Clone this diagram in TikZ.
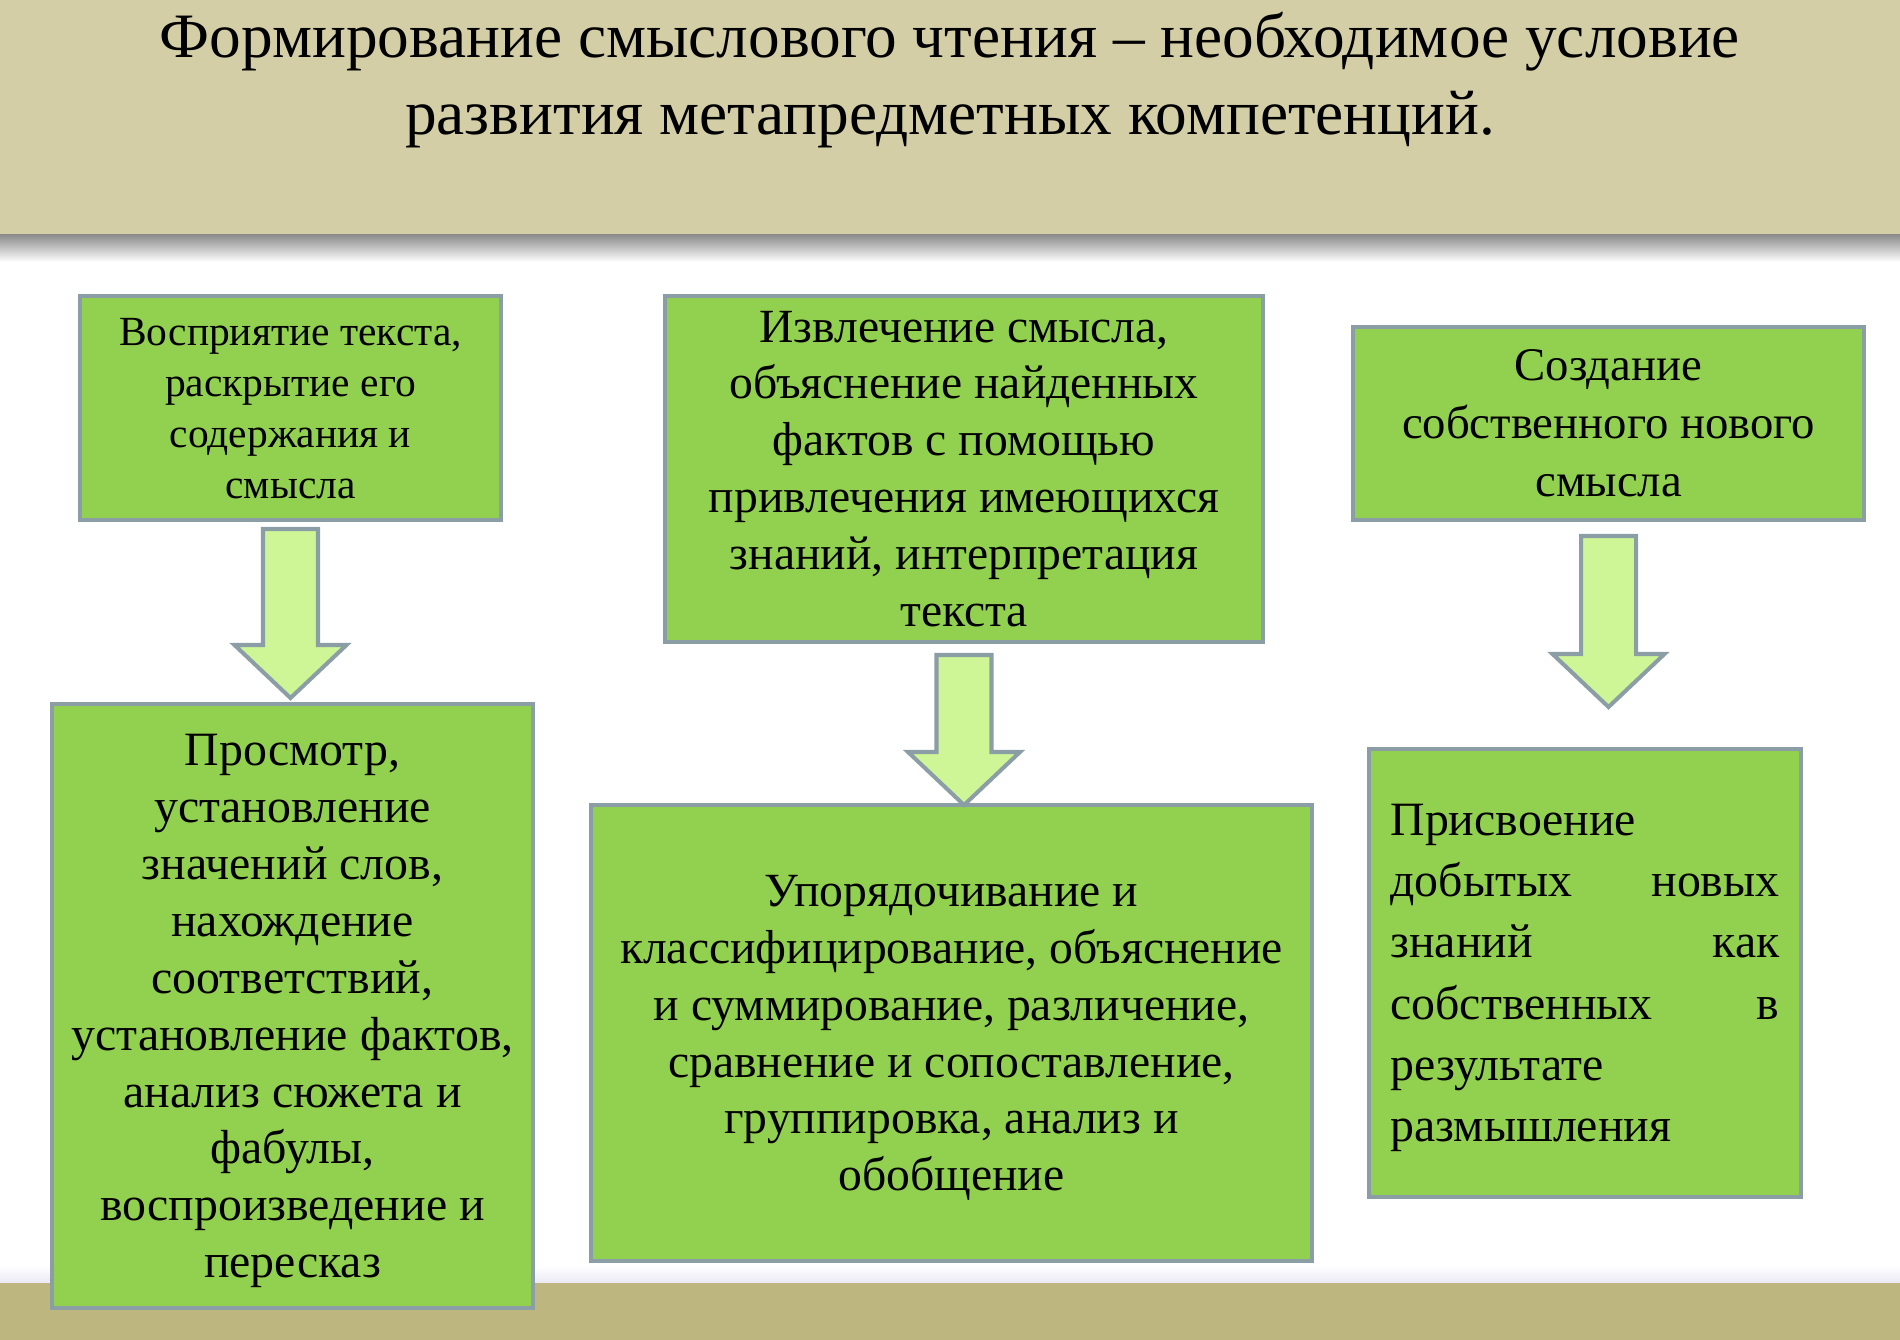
\documentclass[tikz,border=0pt]{standalone}
\usepackage{fontspec}
\setmainfont{Liberation Serif}
\usetikzlibrary{calc}

\definecolor{boxgreen}{RGB}{146,208,80}
\definecolor{arrowgreen}{RGB}{206,246,150}
\definecolor{edgegray}{RGB}{140,158,165}
\definecolor{headband}{RGB}{212,206,166}
\definecolor{footband}{RGB}{189,182,126}

\tikzset{
  stage/.style={draw=edgegray, line width=1.15pt, fill=boxgreen, align=center, inner sep=0pt},
  blockarrow/.style={draw=edgegray, line width=1.15pt, fill=arrowgreen, line join=miter},
}

\newcommand{\blockdown}[2]{%
  \draw[blockarrow] let \p1=(#1), \p2=(#2) in
    (\x1-0.275cm,\y1) -- (\x1+0.275cm,\y1) -- (\x1+0.275cm,\y2+0.53cm)
    -- (\x1+0.56cm,\y2+0.53cm) -- (\x2,\y2) -- (\x1-0.56cm,\y2+0.53cm)
    -- (\x1-0.275cm,\y2+0.53cm) -- cycle;}

\begin{document}
\begin{tikzpicture}
\useasboundingbox (0,0) rectangle (19,13.4);

\fill[headband] (0,11.05) rectangle (19,13.4);
\shade[top color=black!45, bottom color=white] (0,10.78) rectangle (19,11.05);
\fill[footband] (0,0) rectangle (19,0.57);
\shade[top color=white, bottom color={rgb,255:red,236;green,234;blue,244}] (0,0.57) rectangle (19,0.75);

\node[align=center, font=\fontsize{18}{21.7}\selectfont] (titel) at (9.5,12.6)
  {Формирование смыслового чтения – необходимое условие\\развития метапредметных компетенций.};

\node[stage, text depth=0pt, minimum width=4.21cm, minimum height=2.24cm, font=\fontsize{11.8}{14.5}\selectfont] (vospr) at (2.905,9.32)
  {Восприятие текста,\\раскрытие его\\содержания и\\смысла};
\node[stage, minimum width=5.98cm, minimum height=3.46cm, font=\fontsize{13.55}{16.2}\selectfont] (izvl) at (9.64,8.71)
  {Извлечение смысла,\\объяснение найденных\\фактов с помощью\\привлечения имеющихся\\знаний, интерпретация\\текста};
\node[stage, minimum width=5.11cm, minimum height=1.93cm, font=\fontsize{13.3}{16.5}\selectfont] (sozd) at (16.085,9.165)
  {Создание\\собственного нового\\смысла};

\node[stage, text depth=0pt, minimum width=4.81cm, minimum height=6.04cm, font=\fontsize{13.6}{16.2}\selectfont] (prosm) at (2.925,3.34)
  {Просмотр,\\установление\\значений слов,\\нахождение\\соответствий,\\установление фактов,\\анализ сюжета и\\фабулы,\\воспроизведение и\\пересказ};
\node[stage, text depth=0pt, minimum width=7.21cm, minimum height=4.56cm, font=\fontsize{13.55}{16.2}\selectfont] (upor) at (9.515,3.07)
  {Упорядочивание и\\классифицирование, объяснение\\и суммирование, различение,\\сравнение и сопоставление,\\группировка, анализ и\\обобщение};
\node[stage, minimum width=4.32cm, minimum height=4.48cm, font=\fontsize{13.6}{17.4}\selectfont] (prisv) at (15.85,3.67)
  {\parbox{3.89cm}{\raggedright\vspace*{0.1cm}Присвоение\\добытых\hfill новых\\знаний\hfill как\\собственных\hfill в\\результате\\размышления}};

\coordinate (t1) at ($(vospr.south)+(0,-0.07)$);
\coordinate (p1) at ($(t1)+(0,-1.69)$);
\coordinate (t2) at ($(izvl.south)+(0,-0.11)$);
\coordinate (p2) at ($(t2)+(0,-1.50)$);
\coordinate (t3) at ($(sozd.south)+(0,-0.14)$);
\coordinate (p3) at ($(t3)+(0,-1.71)$);

\blockdown{t1}{p1}
\blockdown{t2}{p2}
\blockdown{t3}{p3}
\end{tikzpicture}
\end{document}
